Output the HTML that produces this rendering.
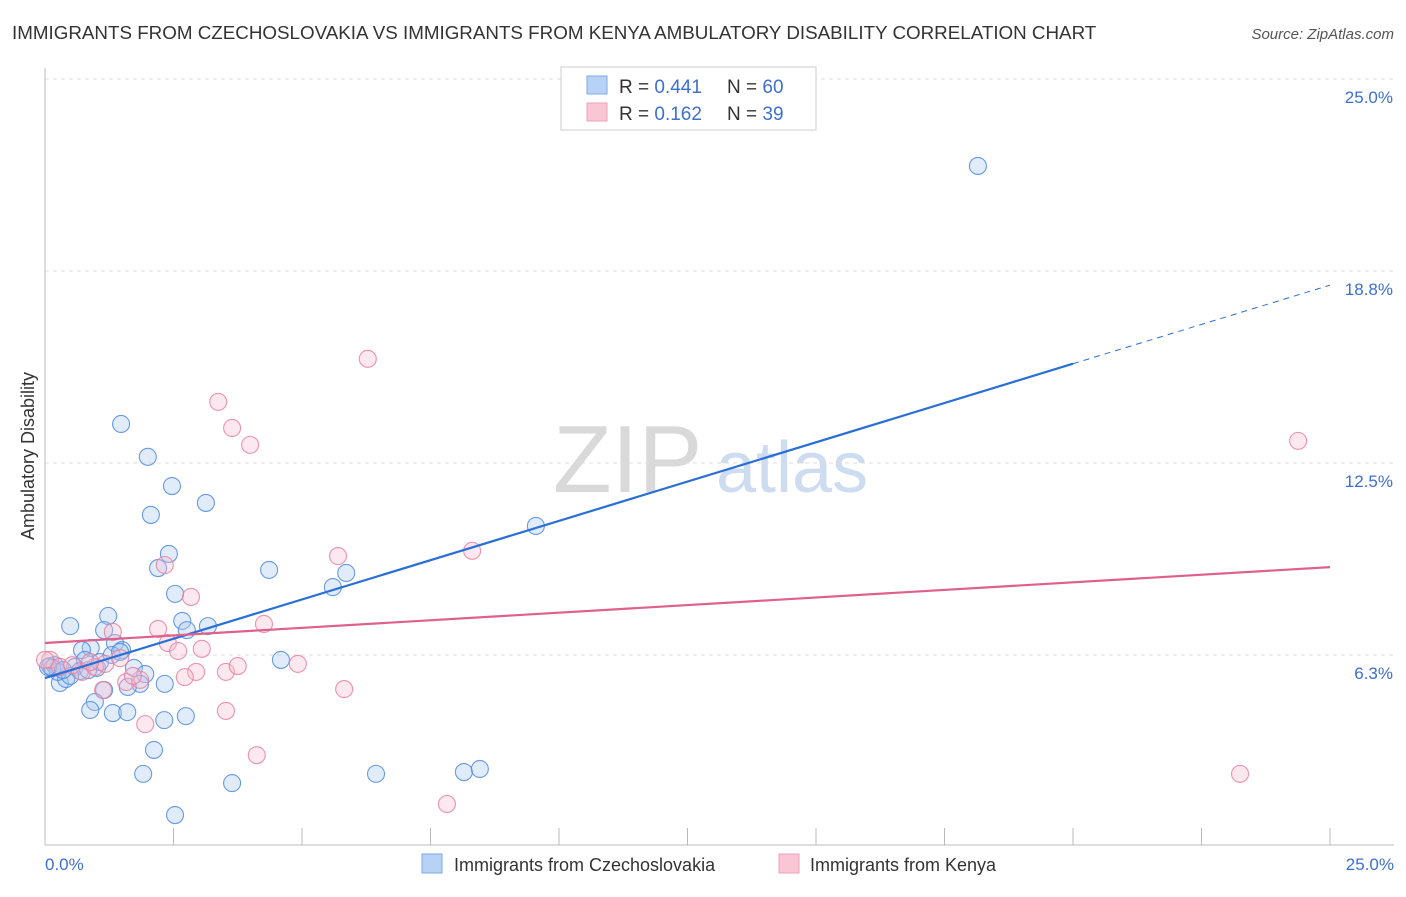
<!DOCTYPE html>
<html><head><meta charset="utf-8"><style>
body{margin:0;background:#fff;font-family:"Liberation Sans",sans-serif}
svg text{font-family:"Liberation Sans",sans-serif}
</style></head><body>
<svg id="c" width="1406" height="892" xmlns="http://www.w3.org/2000/svg">
<text x="12" y="39" font-size="18.8" fill="#333">IMMIGRANTS FROM CZECHOSLOVAKIA VS IMMIGRANTS FROM KENYA AMBULATORY DISABILITY CORRELATION CHART</text>
<text x="1394" y="39" font-size="15" fill="#555" font-style="italic" text-anchor="end">Source: ZipAtlas.com</text>
<g>
<text x="553" y="492" font-size="96" font-family="Liberation Serif" fill="#d9d9d9">ZIP</text>
<text x="716" y="492" font-size="72" fill="#cddcf0">atlas</text>
</g>
<g id="grid"></g>
<line x1="45" y1="68" x2="45" y2="845" stroke="#bbb"/>
<line x1="45" y1="845" x2="1394" y2="845" stroke="#bbb"/>
<g id="xt"></g>
<text x="34" y="456" font-size="18" fill="#333" text-anchor="middle" transform="rotate(-90 34 456)">Ambulatory Disability</text>
<text x="45" y="870" font-size="17" fill="#3d6fd0">0.0%</text>
<text x="1394" y="870" font-size="17" fill="#3d6fd0" text-anchor="end">25.0%</text>
<g id="pts"></g>
<g id="lines"></g>
<g>
<rect x="561" y="67" width="255" height="63" fill="#fff" stroke="#ccc"/>
<rect x="587" y="76" width="20" height="18" fill="#b8d2f5" stroke="#7fa9e6"/>
<rect x="587" y="103" width="20" height="18" fill="#f9c6d6" stroke="#eea1ba"/>
<text x="619" y="93" font-size="19" fill="#333">R = <tspan fill="#3d6fd0">0.441</tspan><tspan x="727">N = </tspan><tspan fill="#3d6fd0">60</tspan></text>
<text x="619" y="120" font-size="19" fill="#333">R = <tspan fill="#3d6fd0">0.162</tspan><tspan x="727">N = </tspan><tspan fill="#3d6fd0">39</tspan></text>
</g>
<g>
<rect x="422" y="854" width="20" height="19" fill="#b8d2f5" stroke="#7fa9e6"/>
<text x="454" y="871" font-size="18" fill="#333">Immigrants from Czechoslovakia</text>
<rect x="779" y="854" width="20" height="19" fill="#f9c6d6" stroke="#eea1ba"/>
<text x="810" y="871" font-size="18" fill="#333">Immigrants from Kenya</text>
</g>
</svg>
<script>
const yTicks=[6.25,12.5,18.75,25];
const yTickLabels=["6.3%","12.5%","18.8%","25.0%"];
const blueX=[1.48,2.00,2.47,2.06,3.13,2.41,2.20,2.53,2.67,2.76,3.17,1.23,0.49,1.15,0.89,0.72,1.36,1.50,1.01,0.58,1.73,1.95,1.85,1.61,2.33,1.15,0.97,0.88,1.32,1.60,2.32,2.74,2.12,1.91,2.53,3.64,4.36,4.59,5.60,5.86,9.55,6.44,8.15,8.46,18.15,0.10,0.19,0.29,0.41,0.25,0.68,0.84,0.14,0.06,0.49,0.35,0.78,1.07,1.30,1.46];
const blueY=[13.77,12.70,11.75,10.81,11.20,9.54,9.08,8.24,7.36,7.06,7.19,7.52,7.19,7.06,6.48,6.41,6.64,6.41,5.83,5.86,5.83,5.63,5.31,5.21,5.31,5.11,4.72,4.46,4.36,4.39,4.13,4.26,3.16,2.38,1.04,2.08,9.02,6.09,8.46,8.92,10.45,2.38,2.44,2.54,22.17,5.89,5.92,5.34,5.47,5.70,5.73,5.76,5.83,5.86,5.57,5.76,6.09,6.02,6.25,6.35];
const pinkX=[6.28,3.37,3.64,3.99,5.70,8.31,2.33,2.84,2.20,1.32,2.39,2.59,3.05,4.26,3.52,2.94,2.72,3.75,4.92,5.82,1.13,1.58,1.85,3.52,1.95,4.12,7.82,24.38,23.25,0.10,0.29,0.72,0.97,1.17,1.46,1.71,0.53,0.88,0.0];
const pinkY=[15.89,14.49,13.64,13.09,9.47,9.64,9.18,8.14,7.10,7.00,6.64,6.38,6.45,7.26,5.70,5.70,5.53,5.89,5.96,5.14,5.11,5.37,5.44,4.43,4.00,2.99,1.40,13.22,2.38,6.09,5.86,5.70,5.86,5.96,6.15,5.57,5.92,6.02,6.09];
const blueTrend=[5.50,18.29];
const pinkTrend=[6.64,9.11];
const blueSolidEnd=20.0;
const X=v=>45+v/25*1285, Y=v=>847-v/25*768;
const NS="http://www.w3.org/2000/svg";
function mk(t,a,p){const e=document.createElementNS(NS,t);for(const k in a)e.setAttribute(k,a[k]);document.getElementById(p).appendChild(e);return e;}
yTicks.forEach((t,i)=>{
 const l=mk('line',{x1:45,x2:1394,y1:Y(t),y2:Y(t),stroke:'#ddd','stroke-dasharray':'4,4'},'grid');
 
 
 const tx=mk('text',{x:1393,y:Y(t)+24,'font-size':17,fill:'#3d6fd0','text-anchor':'end'},'grid');
 tx.textContent=yTickLabels[i];
 
 
});
for(let i=0;i<=10;i++){
 const l=mk('line',{x1:X(i*2.5),x2:X(i*2.5),y1:828,y2:845,stroke:'#bbb'},'xt');
 
 
}
function pts(xs,ys,fill,stroke,name){xs.forEach((x,i)=>{
 const c=mk('circle',{cx:X(x),cy:Y(ys[i]),r:8.5,fill:fill,'fill-opacity':0.35,stroke:stroke,'stroke-width':1.1,'stroke-opacity':0.85},'pts');
 
 
});}
pts(blueX,blueY,'#a9c8f2','#4f8ae0','czechoslovakia-point');
pts(pinkX,pinkY,'#f7bccd','#e9809f','kenya-point');
const bl=mk('line',{x1:X(0),y1:Y(blueTrend[0]),x2:X(blueSolidEnd),y2:Y(blueTrend[0]+(blueTrend[1]-blueTrend[0])*blueSolidEnd/25),stroke:'#2a6fd6','stroke-width':2.2},'lines');


const bd=mk('line',{x1:X(blueSolidEnd),y1:Y(blueTrend[0]+(blueTrend[1]-blueTrend[0])*blueSolidEnd/25),x2:X(25),y2:Y(blueTrend[1]),stroke:'#2a6fd6','stroke-width':1,'stroke-dasharray':'6,5'},'lines');


const pl=mk('line',{x1:X(0),y1:Y(pinkTrend[0]),x2:X(25),y2:Y(pinkTrend[1]),stroke:'#e0608c','stroke-width':2.2},'lines');


</script>
</body></html>
